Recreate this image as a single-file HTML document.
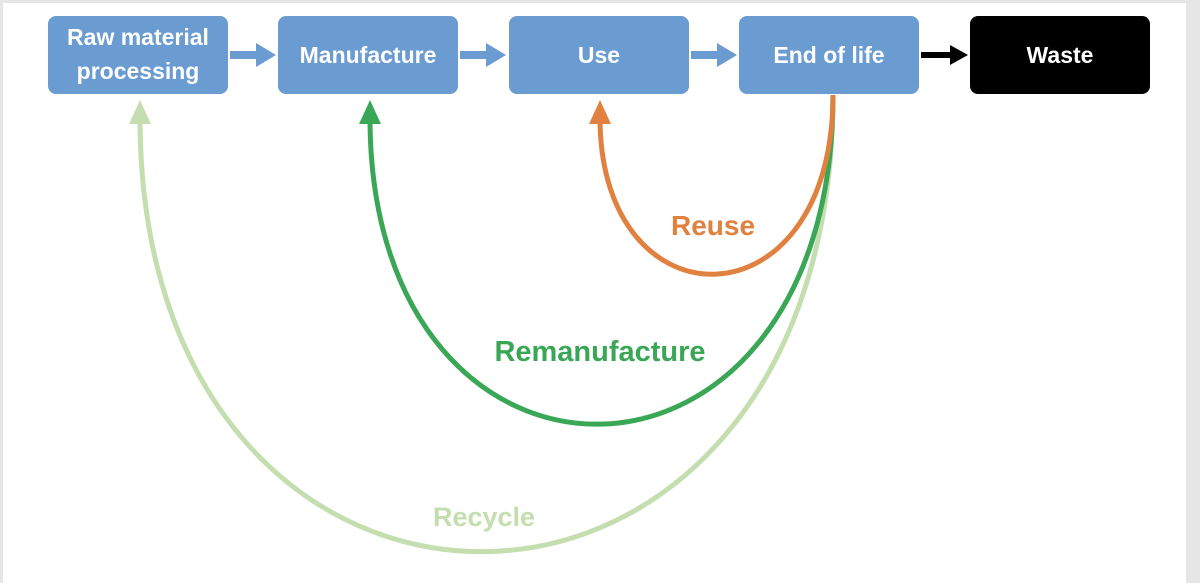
<!DOCTYPE html>
<html><head><meta charset="utf-8"><style>
body{margin:0;width:1200px;height:583px;overflow:hidden;background:#fff;font-family:"Liberation Sans",sans-serif}
</style></head><body>
<svg width="1200" height="583" xmlns="http://www.w3.org/2000/svg" style="position:absolute;left:0;top:0">
<rect x="0" y="0" width="1200" height="583" fill="#fff"/>
<rect x="0" y="0" width="1200" height="3" fill="#e6e6e6"/>
<rect x="0" y="0" width="3" height="583" fill="#e6e6e6"/>
<rect x="1186" y="0" width="14" height="583" fill="#e6e6e6"/>
<g fill="#6a9bd1">
<rect x="48" y="16" width="180" height="78" rx="8"/>
<rect x="278" y="16" width="180" height="78" rx="8"/>
<rect x="509" y="16" width="180" height="78" rx="8"/>
<rect x="739" y="16" width="180" height="78" rx="8"/>
</g>
<rect x="970" y="16" width="180" height="78" rx="8" fill="#000"/>
<g fill="#6a9bd1">
<rect x="230" y="51" width="28" height="8"/><polygon points="256,43 276,55 256,67"/>
<rect x="460" y="51" width="28" height="8"/><polygon points="486,43 506,55 486,67"/>
<rect x="691" y="51" width="28" height="8"/><polygon points="717,43 737,55 717,67"/>
</g>
<rect x="921" y="52" width="32" height="6" fill="#000"/><polygon points="950,45 968,55 950,65" fill="#000"/>
<g font-weight="bold" fill="#fff" font-size="23" text-anchor="middle">
<text x="138" y="45">Raw material</text>
<text x="138" y="79">processing</text>
<text x="368" y="63">Manufacture</text>
<text x="599" y="63">Use</text>
<text x="829" y="63">End of life</text>
<text x="1060" y="63">Waste</text>
</g>
<g fill="none" stroke-width="5">
<path d="M833,95 C833,700 140,700 140,118" stroke="#c5deb0"/>
<path d="M833,95 C833,530 370,530 370,118" stroke="#3aa757"/>
<path d="M833,95 C833,330 600,330 600,118" stroke="#e0813f"/>
</g>
<polygon points="140,100 129,124 151,124" fill="#c5deb0"/>
<polygon points="370,100 359,124 381,124" fill="#3aa757"/>
<polygon points="600,100 589,124 611,124" fill="#e0813f"/>
<g font-weight="bold" text-anchor="middle">
<text x="713" y="235" fill="#e0813f" font-size="28">Reuse</text>
<text x="600" y="361" fill="#3aa757" font-size="29">Remanufacture</text>
<text x="484" y="526" fill="#c5deb0" font-size="27">Recycle</text>
</g>
</svg>
</body></html>
